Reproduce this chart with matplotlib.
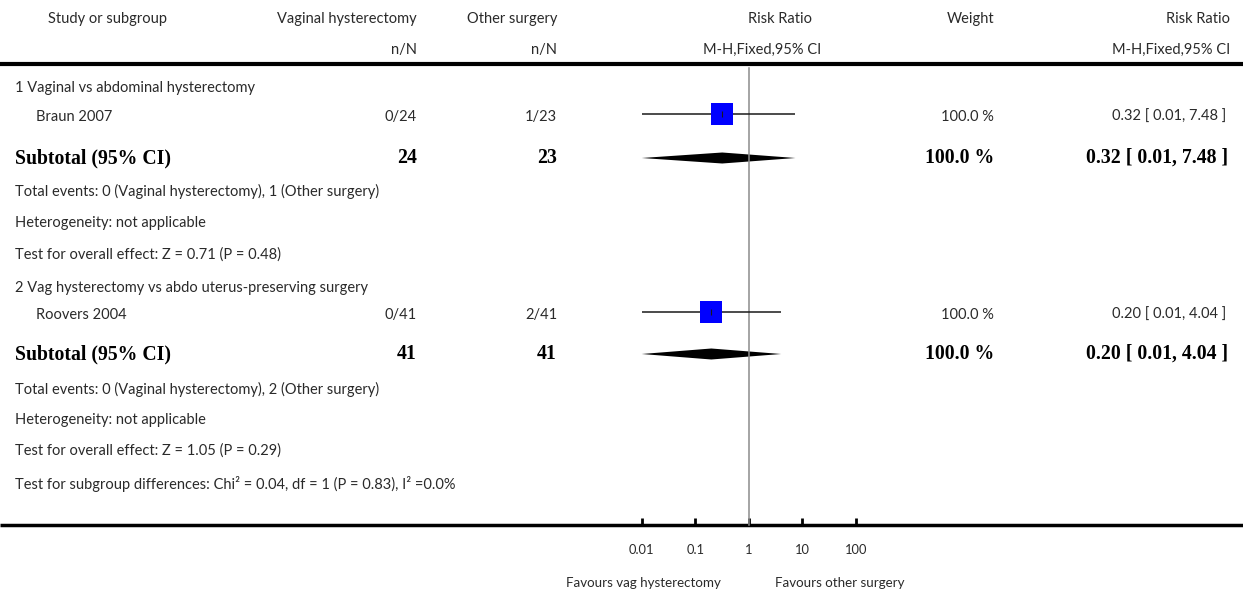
import matplotlib
matplotlib.use("Agg")
import matplotlib.pyplot as plt
import numpy as np

# ---- data ----
groups = ["1 Vaginal vs abdominal hysterectomy",
          "2 Vag hysterectomy vs abdo uterus-preserving surgery"]
studies = ["Braun 2007", "Roovers 2004"]
events_vag = [0, 0]
total_vag = [24, 41]
events_other = [1, 2]
total_other = [23, 41]
rr = [0.32, 0.20]
rr_lo = [0.01, 0.01]
rr_hi = [7.48, 4.04]
weights = [100.0, 100.0]
sub_rr = [0.32, 0.20]
sub_lo = [0.01, 0.01]
sub_hi = [7.48, 4.04]
het_text = ["Heterogeneity: not applicable", "Heterogeneity: not applicable"]
overall_text = ["Test for overall effect: Z = 0.71 (P = 0.48)",
                "Test for overall effect: Z = 1.05 (P = 0.29)"]
subgroup_diff = "Test for subgroup differences: Chi\u00b2 = 0.04, df = 1 (P = 0.83), I\u00b2 =0.0%"
tick_vals = [0.01, 0.1, 1, 10, 100]
tick_labels = ["0.01", "0.1", "1", "10", "100"]

W, H = 1243, 594
fig = plt.figure(figsize=(W / 100, H / 100), dpi=100)

SANS = ["Lato", "DejaVu Sans"]
SERIF = ["Liberation Serif", "DejaVu Serif"]
TXT = "#2a2a2a"
FS = 10.5
BFS = 14.2

# overlay axes in pixel coordinates for text and rules
ov = fig.add_axes([0, 0, 1, 1])
ov.set_xlim(0, W)
ov.set_ylim(H, 0)
ov.axis("off")

# forest axes: log scale, x from 0.01 to 100
fx0, fx1 = 641.7, 855.7
ftop, fbot = 0, 525
fa = fig.add_axes([fx0 / W, 1 - fbot / H, (fx1 - fx0) / W, (fbot - ftop) / H])
fa.set_xscale("log")
fa.set_xlim(0.01, 100)
fa.set_ylim(fbot, ftop)
fa.patch.set_alpha(0)
for s in ["top", "left", "right", "bottom"]:
    fa.spines[s].set_visible(False)
fa.set_yticks([])
fa.set_xticks(tick_vals)
fa.set_xticklabels(tick_labels, fontfamily=SANS, fontsize=9.3, color=TXT)
fa.minorticks_off()
fa.tick_params(axis="x", direction="in", length=5, width=2, pad=14, color="black")


def t(x, y, s, ha="left", bold=False, size=None):
    if bold:
        ov.text(x, y, s, ha=ha, va="center", fontfamily=SERIF, fontweight="bold",
                fontsize=size or BFS, color="black")
    else:
        ov.text(x, y, s, ha=ha, va="center", fontfamily=SANS,
                fontsize=size or FS, color=TXT)


# header
t(48, 19, "Study or subgroup")
t(417, 19, "Vaginal hysterectomy", ha="right")
t(557, 19, "Other surgery", ha="right")
t(812, 19, "Risk Ratio", ha="right")
t(994, 19, "Weight", ha="right")
t(1230, 19, "Risk Ratio", ha="right")
t(417, 50, "n/N", ha="right")
t(557, 50, "n/N", ha="right")
t(821, 50, "M-H,Fixed,95% CI", ha="right")
t(1230, 50, "M-H,Fixed,95% CI", ha="right")
ov.plot([0, W], [64, 64], color="black", lw=3, solid_capstyle="butt")
ov.plot([0, W], [525, 525], color="black", lw=2.5, solid_capstyle="butt")

# null line
fa.plot([1, 1], [68, 525], color="#8c8c8c", lw=1.1, clip_on=False)

block_y = [
    dict(title=88, study=117, sub=158, tot=191, het=223, ov=255),
    dict(title=288, study=315, sub=354, tot=389, het=420, ov=451),
]
mark_off = -3

for i, b in enumerate(block_y):
    t(15, b["title"], groups[i])
    t(36, b["study"], studies[i])
    t(417, b["study"], f"{events_vag[i]}/{total_vag[i]}", ha="right")
    t(557, b["study"], f"{events_other[i]}/{total_other[i]}", ha="right")
    t(994, b["study"], f"{weights[i]:.1f} %", ha="right")
    t(1226, b["study"], f"{rr[i]:.2f} [ {rr_lo[i]:.2f}, {rr_hi[i]:.2f} ]", ha="right")

    ym = b["study"] + mark_off
    fa.plot([rr_lo[i], rr_hi[i]], [ym, ym], color="#1a1a1a", lw=1.1,
            solid_capstyle="butt", clip_on=False)
    fa.plot([rr[i]], [ym], marker="s", markersize=15.6, color="#0000ff",
            markeredgewidth=0, clip_on=False)
    fa.plot([rr[i]], [ym], marker="|", markersize=4, color="#1a1a1a",
            markeredgewidth=0.8, clip_on=False)

    t(15, b["sub"], "Subtotal (95% CI)", bold=True)
    t(417, b["sub"], f"{total_vag[i]}", ha="right", bold=True)
    t(557, b["sub"], f"{total_other[i]}", ha="right", bold=True)
    t(994, b["sub"], f"{weights[i]:.1f} %", ha="right", bold=True)
    t(1228, b["sub"], f"{sub_rr[i]:.2f} [ {sub_lo[i]:.2f}, {sub_hi[i]:.2f} ]",
      ha="right", bold=True)
    yd = b["sub"]
    h = 5.5
    fa.fill([sub_lo[i], sub_rr[i], sub_hi[i], sub_rr[i]],
            [yd, yd - h, yd, yd + h], color="black", lw=0, clip_on=False)

    t(15, b["tot"], f"Total events: {events_vag[i]} (Vaginal hysterectomy), "
                    f"{events_other[i]} (Other surgery)")
    t(15, b["het"], het_text[i])
    t(15, b["ov"], overall_text[i])

t(15, 484, subgroup_diff)

t(721, 583, "Favours vag hysterectomy", ha="right", size=9.6)
t(775, 583, "Favours other surgery", size=9.6)

fig.savefig("out.png", dpi=100)
